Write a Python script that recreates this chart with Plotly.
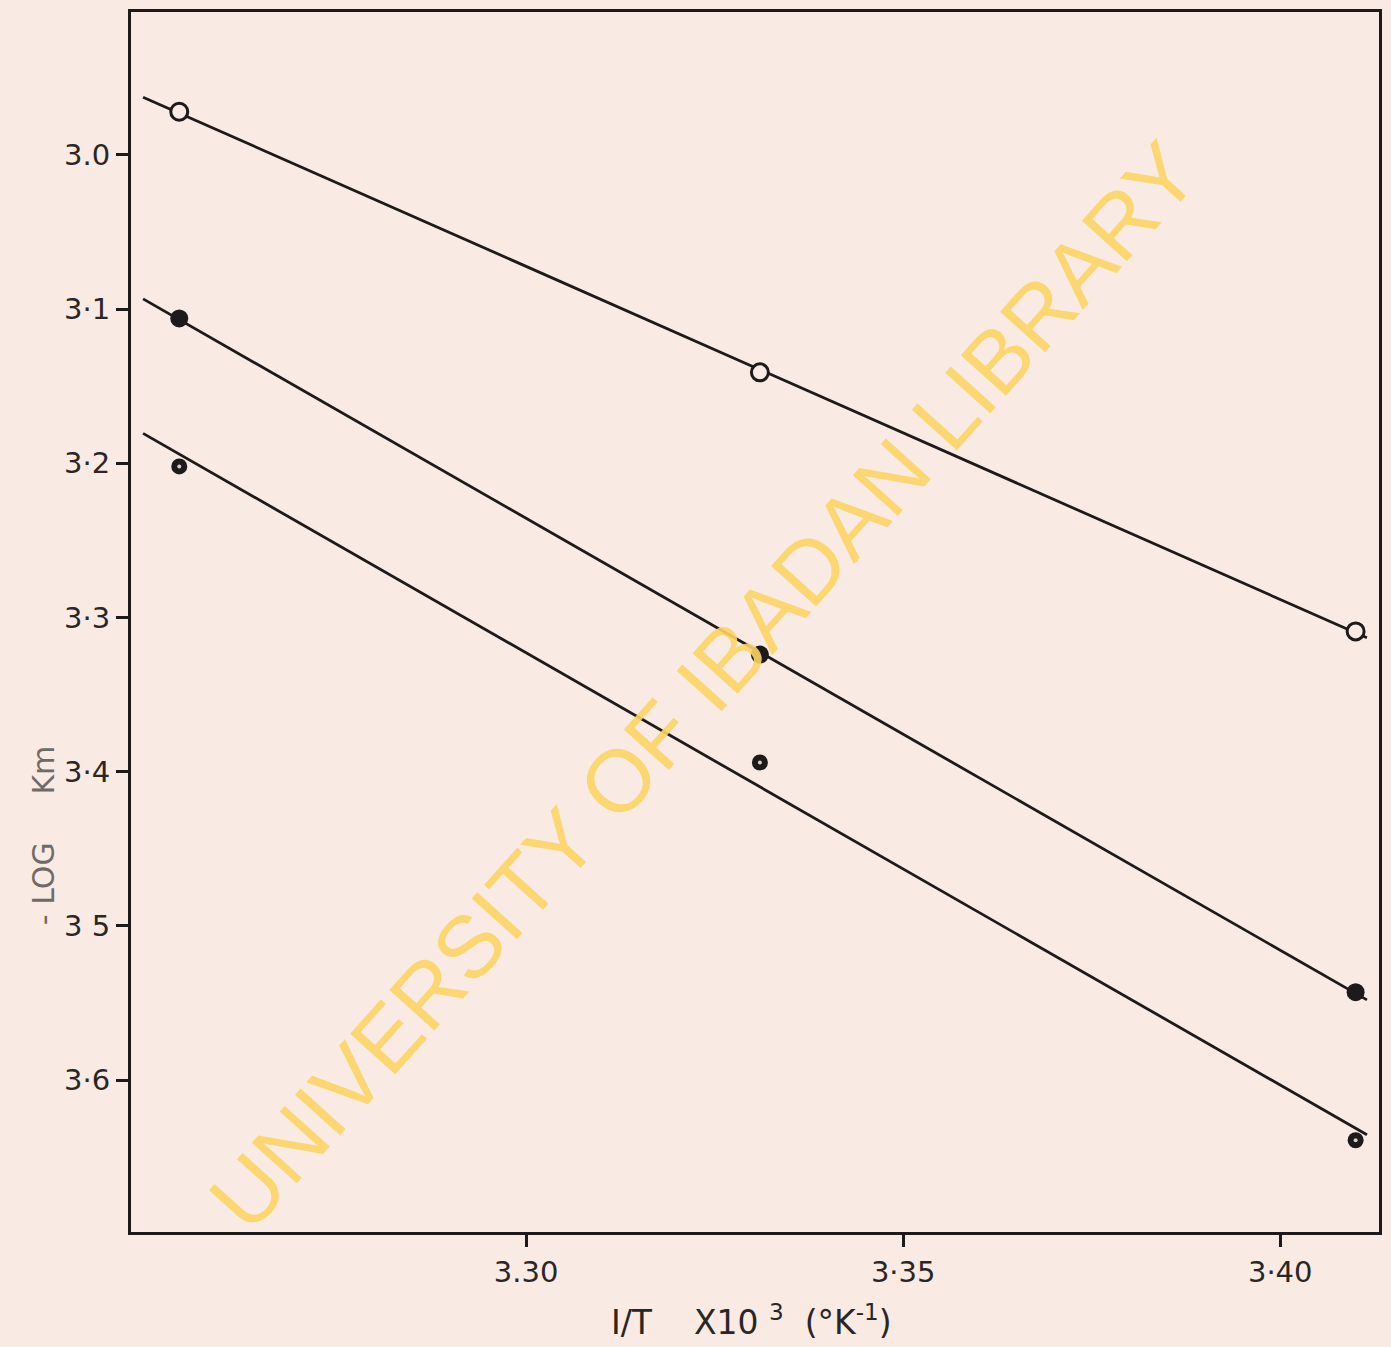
import numpy as np
import plotly.graph_objects as go

# 1/T x 10^3 (K^-1) at the three temperatures
inv_t = [3.254, 3.331, 3.410]

# -log Km for each series
open_series = [2.972, 3.141, 3.309]
filled_series = [3.106, 3.324, 3.543]
dotted_series = [3.202, 3.394, 3.639]

x_ticks = [3.30, 3.35, 3.40]
x_tick_text = ["3.30", "3·35", "3·40"]
y_ticks = [3.0, 3.1, 3.2, 3.3, 3.4, 3.5, 3.6]
y_tick_text = ["3.0", "3·1", "3·2", "3·3", "3·4", "3 5", "3·6"]

# extent of the fitted straight lines
line_x = [3.2492, 3.4115]

INK = "#1e1a1a"
PAPER = "#f9ebe3"

fig = go.Figure()

# least-squares lines through each series
for ys in (open_series, filled_series, dotted_series):
    slope, icpt = np.polyfit(inv_t, ys, 1)
    fig.add_trace(go.Scatter(
        x=line_x, y=[slope * v + icpt for v in line_x],
        mode="lines", line=dict(color=INK, width=2.8),
        showlegend=False, hoverinfo="skip"))

fig.add_trace(go.Scatter(
    x=inv_t, y=open_series, mode="markers",
    marker=dict(symbol="circle", size=17, color=PAPER,
                line=dict(color=INK, width=3)),
    showlegend=False))
fig.add_trace(go.Scatter(
    x=inv_t, y=filled_series, mode="markers",
    marker=dict(symbol="circle", size=18, color=INK,
                line=dict(color=INK, width=0)),
    showlegend=False))
fig.add_trace(go.Scatter(
    x=inv_t, y=dotted_series, mode="markers",
    marker=dict(symbol="circle", size=16, color=INK,
                line=dict(color=INK, width=0)),
    showlegend=False))
fig.add_trace(go.Scatter(
    x=inv_t, y=dotted_series, mode="markers",
    marker=dict(symbol="circle", size=4, color="#d8ccc6",
                line=dict(width=0)),
    showlegend=False, hoverinfo="skip"))

axis_common = dict(
    showline=True, mirror=True, linecolor=INK, linewidth=3,
    showgrid=False, zeroline=False,
    ticks="outside", ticklen=12, tickwidth=3, tickcolor=INK,
    tickfont=dict(family="DejaVu Sans", size=29, color="#2a2626"),
)

fig.update_xaxes(range=[3.2476, 3.4131], tickvals=x_ticks,
                 ticktext=x_tick_text, **axis_common)
fig.update_yaxes(range=[3.6985, 2.9073], tickvals=y_ticks,
                 ticktext=y_tick_text, **axis_common)

fig.add_annotation(
    xref="paper", yref="paper", x=0.497, y=-0.053,
    xanchor="center", yanchor="top", showarrow=False,
    text="I/T    X10 <sup>3</sup>  (°K<sup>-1</sup>)",
    font=dict(family="DejaVu Sans", size=33, color="#2a2626"))
fig.add_annotation(
    xref="paper", yref="paper", x=-0.07, y=0.325,
    xanchor="center", yanchor="middle", showarrow=False,
    text="- LOG     Km", textangle=-90,
    font=dict(family="DejaVu Sans", size=30, color="#6f6a68"))

# library watermark
fig.add_annotation(
    xref="paper", yref="paper", x=0.459, y=0.448,
    xanchor="center", yanchor="middle", showarrow=False,
    text="UNIVERSITY OF IBADAN LIBRARY", textangle=-48,
    font=dict(family="Liberation Sans", size=88,
              color="rgba(252, 212, 100, 0.9)"))

fig.update_layout(
    width=1391, height=1347,
    margin=dict(l=131, r=9, t=12, b=115),
    paper_bgcolor=PAPER, plot_bgcolor=PAPER,
)

fig.write_html("out.html")
